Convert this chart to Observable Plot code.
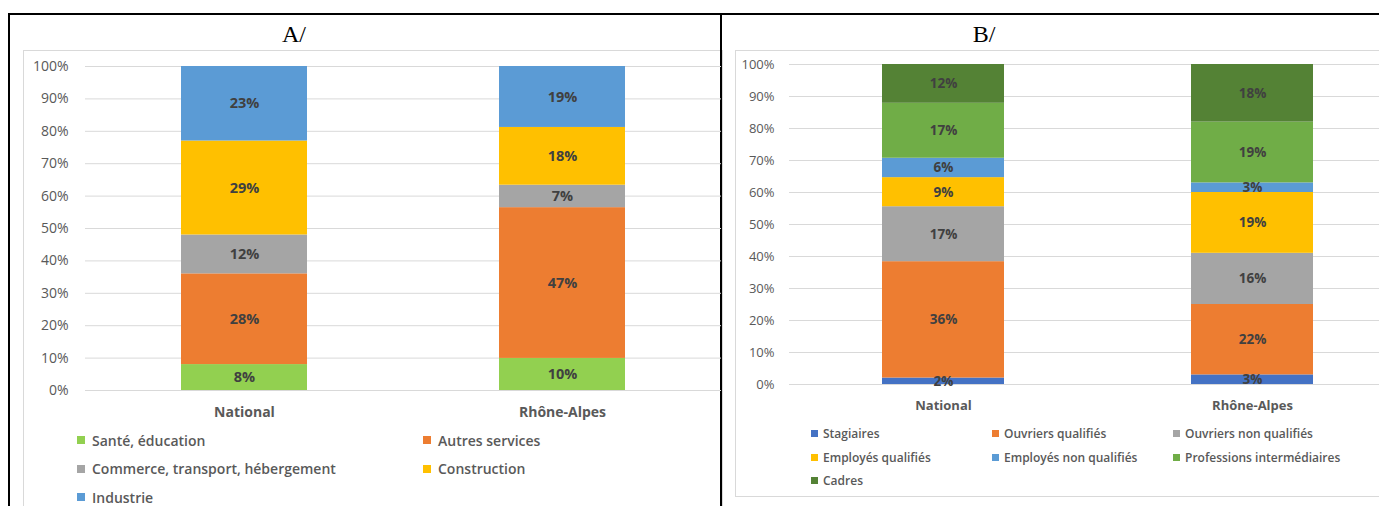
<!DOCTYPE html>
<html><head><meta charset="utf-8">
<script src="https://cdn.jsdelivr.net/npm/d3@7"></script>
<script src="https://cdn.jsdelivr.net/npm/@observablehq/plot@0.6"></script>
<style>
body{margin:0;background:#fff;font-family:"Open Sans",sans-serif;}
#page{position:relative;width:1379px;height:506px;overflow:hidden;background:#fff;}
.line{position:absolute;background:#000;}
.frame{position:absolute;border:1px solid #d9d9d9;box-sizing:border-box;}
.title{position:absolute;font-family:"Liberation Serif",serif;font-size:24px;color:#000;transform:translateX(-50%);line-height:1;}
.chart{position:absolute;}
.chart svg{overflow:visible;max-width:none !important;display:block;}
.legend{position:absolute;display:grid;color:#595959;font-weight:600;}
.legend .item{display:flex;align-items:center;white-space:nowrap;}
.legend .sw{display:inline-block;flex:none;}
</style></head><body><div id="page">
<div class="frame" style="left:23px;top:50px;width:700px;height:470px;"></div>
<div class="frame" style="left:735px;top:50px;width:660px;height:447px;"></div>
<div class="line" style="left:8px;top:13px;width:1371px;height:2px;"></div>
<div class="line" style="left:8px;top:13px;width:2px;height:493px;"></div>
<div class="line" style="left:720px;top:13px;width:2px;height:493px;"></div>
<div class="title" style="left:294px;top:22px;">A/</div>
<div class="title" style="left:984px;top:22px;">B/</div>
<div class="chart" id="chartA" style="left:23px;top:50px;width:698px;"></div>
<div class="chart" id="chartB" style="left:735px;top:50px;width:672px;"></div>
<div class="legend" id="legendA" style="left:77px;top:426px;grid-template-columns:346px auto;grid-auto-rows:28.5px;font-size:14px;"></div>
<div class="legend" id="legendB" style="left:811px;top:422px;grid-template-columns:181px 181px auto;grid-auto-rows:23.5px;font-size:12px;"></div>
</div>
<script>
const categories = ["National", "Rhône-Alpes"];

const sectorsA = ["Santé, éducation", "Autres services", "Commerce, transport, hébergement", "Construction", "Industrie"];
const nationalA = [8, 28, 12, 29, 23];
const rhoneA = [10, 47, 7, 18, 19];
const colorsA = ["#92D050", "#ED7D31", "#A5A5A5", "#FFC000", "#5B9BD5"];

const groupsB = ["Stagiaires", "Ouvriers qualifiés", "Ouvriers non qualifiés", "Employés qualifiés", "Employés non qualifiés", "Professions intermédiaires", "Cadres"];
const nationalB = [2, 36, 17, 9, 6, 17, 12];
const rhoneB = [3, 22, 16, 19, 3, 19, 18];
const colorsB = ["#4472C4", "#ED7D31", "#A5A5A5", "#FFC000", "#5B9BD5", "#70AD47", "#548235"];

const yTicks = [0, 0.1, 0.2, 0.3, 0.4, 0.5, 0.6, 0.7, 0.8, 0.9, 1];

function rowsOf(series, nat, rho) {
  const rows = [];
  series.forEach((s, i) => rows.push({cat: categories[0], series: s, value: nat[i]}));
  series.forEach((s, i) => rows.push({cat: categories[1], series: s, value: rho[i]}));
  return rows;
}

function chart(rows, series, colors, o) {
  return Plot.plot({
    width: o.width, height: o.height,
    marginLeft: o.ml, marginRight: 0, marginTop: o.mt, marginBottom: o.mb,
    style: {fontFamily: "'Open Sans', sans-serif", background: "transparent", color: "#595959"},
    x: {domain: categories, paddingInner: 0.604, paddingOuter: 0.302, label: null},
    y: {domain: [0, 1], label: null},
    color: {domain: series, range: colors},
    marks: [
      Plot.gridY(yTicks, {stroke: "#d9d9d9", strokeOpacity: 1}),
      Plot.axisY(yTicks, {tickSize: 0, tickPadding: o.ypad, tickFormat: d3.format(".0%"), fontSize: o.tfs, label: null}),
      Plot.axisX({tickSize: 0, tickPadding: o.xpad, fontSize: o.cfs, fontWeight: "bold", label: null}),
      Plot.barY(rows, Plot.stackY({x: "cat", y: "value", fill: "series", offset: "normalize", order: null})),
      Plot.text(rows, Plot.stackY({x: "cat", y: "value", z: "series", offset: "normalize", order: null,
        text: d => d.value + "%", fill: "#404040", fontWeight: "bold", fontSize: o.lfs}))
    ]
  });
}

function legend(el, series, colors, sw, gap) {
  series.forEach((s, i) => {
    const it = document.createElement("div");
    it.className = "item";
    it.innerHTML = `<span class="sw" style="width:${sw}px;height:${sw}px;background:${colors[i]};margin-right:${gap}px"></span><span>${s}</span>`;
    el.appendChild(it);
  });
}

document.getElementById("chartA").appendChild(chart(rowsOf(sectorsA, nationalA, rhoneA), sectorsA, colorsA,
  {width: 698, height: 370, ml: 62, mt: 16, mb: 30, ypad: 17, xpad: 17, tfs: 14, cfs: 14, lfs: 14.5}));
document.getElementById("chartB").appendChild(chart(rowsOf(groupsB, nationalB, rhoneB), groupsB, colorsB,
  {width: 672, height: 364, ml: 54, mt: 14, mb: 30, ypad: 15, xpad: 16, tfs: 13, cfs: 13, lfs: 13.5}));
legend(document.getElementById("legendA"), sectorsA, colorsA, 8, 7);
legend(document.getElementById("legendB"), groupsB, colorsB, 7, 5);
</script>
</body></html>
